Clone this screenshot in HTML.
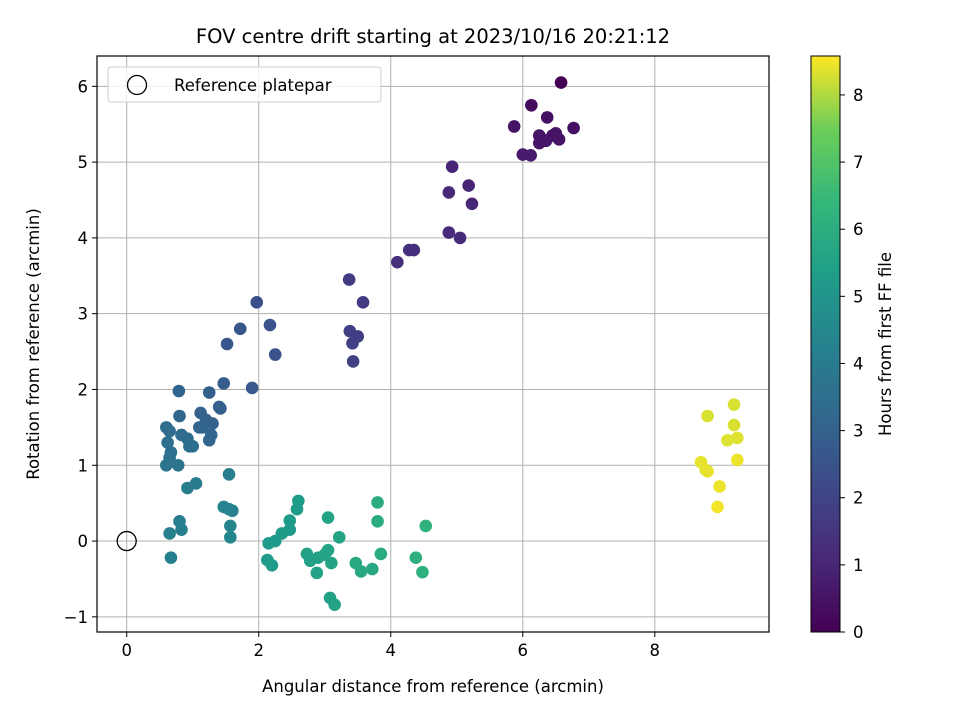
<!DOCTYPE html>
<html><head><meta charset="utf-8"><style>
body{margin:0;background:#fff;font-family:"Liberation Sans","DejaVu Sans",sans-serif}
svg text{font-family:"DejaVu Sans","Liberation Sans",sans-serif}
</style></head><body>
<svg id="chart" width="960" height="720">
<defs><linearGradient id="vir" x1="0" y1="1" x2="0" y2="0">
<stop offset="0" stop-color="#440154"/><stop offset="0.125" stop-color="#482878"/><stop offset="0.25" stop-color="#3e4989"/><stop offset="0.375" stop-color="#31688e"/><stop offset="0.5" stop-color="#26828e"/><stop offset="0.625" stop-color="#1f9e89"/><stop offset="0.75" stop-color="#35b779"/><stop offset="0.875" stop-color="#6ece58"/><stop offset="1" stop-color="#fde725"/></linearGradient></defs>
<g id="grid"></g><g id="pts"></g><g id="axes"></g>
</svg>
<script>
const xs=[6.58,6.13,5.87,6.37,6.77,6.25,6.45,6.55,6.25,6.35,6.5,6.0,6.12,6.3,4.93,4.88,5.18,5.23,4.88,5.05,4.1,4.28,4.35,3.37,3.58,3.38,3.5,3.42,3.43,1.97,2.17,1.72,1.52,2.25,1.47,1.9,1.25,0.79,1.4,1.42,0.8,1.12,1.3,1.2,1.1,1.15,1.28,1.25,0.6,0.65,0.83,0.92,0.62,0.95,1.0,0.67,0.65,0.6,0.78,1.55,0.92,1.05,1.47,1.6,1.55,1.57,1.57,0.8,0.83,0.65,0.67,2.6,2.58,2.47,2.47,2.35,2.25,2.15,2.13,2.2,2.73,2.78,2.9,2.88,3.0,3.05,3.1,3.05,3.22,3.08,3.15,3.47,3.55,3.72,3.85,3.8,3.8,4.38,4.48,4.53,8.8,9.2,9.2,9.25,9.1,8.7,8.77,8.8,9.25,8.98,8.95];
const ys=[6.05,5.75,5.47,5.59,5.45,5.35,5.35,5.3,5.25,5.28,5.38,5.1,5.09,5.3,4.94,4.6,4.69,4.45,4.07,4.0,3.68,3.84,3.84,3.45,3.15,2.77,2.7,2.61,2.37,3.15,2.85,2.8,2.6,2.46,2.08,2.02,1.96,1.98,1.77,1.75,1.65,1.69,1.55,1.6,1.5,1.5,1.4,1.33,1.5,1.45,1.4,1.35,1.3,1.25,1.25,1.17,1.1,1.0,1.0,0.88,0.7,0.76,0.45,0.4,0.42,0.2,0.05,0.26,0.15,0.1,-0.22,0.53,0.42,0.27,0.15,0.1,0.0,-0.03,-0.25,-0.32,-0.17,-0.26,-0.22,-0.42,-0.18,-0.12,-0.29,0.31,0.05,-0.75,-0.84,-0.29,-0.4,-0.37,-0.17,0.51,0.26,-0.22,-0.41,0.2,1.65,1.8,1.53,1.36,1.33,1.04,0.94,0.92,1.07,0.72,0.45];
const hrs=[0.0,0.3,0.5,0.4,0.4,0.5,0.5,0.55,0.6,0.6,0.5,0.7,0.7,0.6,1.0,1.05,1.0,1.05,1.15,1.15,1.3,1.3,1.3,1.7,1.7,1.8,1.8,1.85,1.85,2.4,2.5,2.6,2.6,2.5,2.8,2.7,2.9,3.1,2.9,2.9,3.2,3.0,3.0,3.0,3.1,3.1,3.2,3.2,3.4,3.4,3.4,3.4,3.5,3.5,3.5,3.6,3.6,3.7,3.7,4.1,4.0,4.0,4.3,4.3,4.3,4.4,4.4,4.1,4.1,4.2,4.2,5.3,5.3,5.3,5.3,5.3,5.2,5.2,5.2,5.2,5.5,5.5,5.5,5.5,5.6,5.6,5.6,5.6,5.6,5.5,5.5,5.8,5.8,5.8,5.9,5.9,5.9,6.1,6.1,6.2,8.3,8.3,8.3,8.35,8.35,8.4,8.4,8.4,8.45,8.45,8.5];
const xTicks=[0,2,4,6,8], yTicks=[-1,0,1,2,3,4,5,6], cTicks=[0,1,2,3,4,5,6,7,8];
const L=97,R=769,T=56,B=632,xmin=-0.45,xmax=9.73,ymin=-1.2,ymax=6.4,cmax=8.58;
const X=v=>L+(v-xmin)/(xmax-xmin)*(R-L), Y=v=>B-(v-ymin)/(ymax-ymin)*(B-T), C=v=>632-v/cmax*576;
const vs=[[68,1,84],[72,40,120],[62,73,137],[49,104,142],[38,130,142],[31,158,137],[53,183,121],[110,206,88],[253,231,37]];
function vir(t){t=Math.max(0,Math.min(1,t))*8;const i=Math.min(7,Math.floor(t)),f=t-i,a=vs[i],b=vs[i+1];return `rgb(${a.map((c,k)=>Math.round(c+(b[k]-c)*f)).join(',')})`;}
const NS='http://www.w3.org/2000/svg';
function mk(p,tag,at,txt){const e=document.createElementNS(NS,tag);for(const k in at)e.setAttribute(k,at[k]);if(txt!==undefined)e.textContent=txt;p.appendChild(e);return e;}
const g=document.getElementById('grid'),pg=document.getElementById('pts'),ax=document.getElementById('axes');
xTicks.forEach(t=>{const x=X(t);
const l=mk(g,'line',{x1:x,x2:x,y1:T,y2:B,stroke:'#b0b0b0','stroke-width':1});


mk(ax,'line',{x1:x,x2:x,y1:B,y2:B+5,stroke:'#000'});
const tx=mk(ax,'text',{x:x,y:B+24,'text-anchor':'middle','font-size':'16.5'},t);

});
yTicks.forEach(t=>{const y=Y(t);
const l=mk(g,'line',{x1:L,x2:R,y1:y,y2:y,stroke:'#b0b0b0','stroke-width':1});


mk(ax,'line',{x1:L-5,x2:L,y1:y,y2:y,stroke:'#000'});
const tx=mk(ax,'text',{x:L-9,y:y+6,'text-anchor':'end','font-size':'16.5'},t<0?'−'+(-t):t);

});
xs.forEach((v,i)=>{const c=mk(pg,'circle',{cx:X(v),cy:Y(ys[i]),r:6.3,fill:vir(hrs[i]/cmax)});

});
const ref=mk(pg,'circle',{cx:X(0),cy:Y(0),r:9.5,fill:'none',stroke:'#000','stroke-width':1.3});


const fr=mk(ax,'rect',{x:L,y:T,width:R-L,height:B-T,fill:'none',stroke:'#000','stroke-width':1.2});


const lg=mk(ax,'g',{});


mk(lg,'rect',{x:108,y:67,width:273,height:35,rx:3,fill:'#fff','fill-opacity':0.8,stroke:'#ccc'});
mk(lg,'circle',{cx:137,cy:85,r:9.5,fill:'none',stroke:'#000','stroke-width':1.3});
mk(lg,'text',{x:174,y:91,'font-size':'16.5'},'Reference platepar');
const cb=mk(ax,'rect',{x:811,y:56,width:29,height:576,fill:'url(#vir)',stroke:'#000','stroke-width':1});


cTicks.forEach(t=>{const y=C(t);mk(ax,'line',{x1:840,x2:845,y1:y,y2:y,stroke:'#000'});
const tx=mk(ax,'text',{x:853,y:y+6,'font-size':'16.5'},t);

});
const t1=mk(ax,'text',{x:433,y:43,'text-anchor':'middle','font-size':'19.5'},'FOV centre drift starting at 2023/10/16 20:21:12');

const t2=mk(ax,'text',{x:433,y:692,'text-anchor':'middle','font-size':'16.5'},'Angular distance from reference (arcmin)');

const t3=mk(ax,'text',{x:39,y:344,'text-anchor':'middle','font-size':'16.5',transform:'rotate(-90 39 344)'},'Rotation from reference (arcmin)');

const t4=mk(ax,'text',{x:891,y:344,'text-anchor':'middle','font-size':'16.5',transform:'rotate(-90 891 344)'},'Hours from first FF file');

</script>
</body></html>
